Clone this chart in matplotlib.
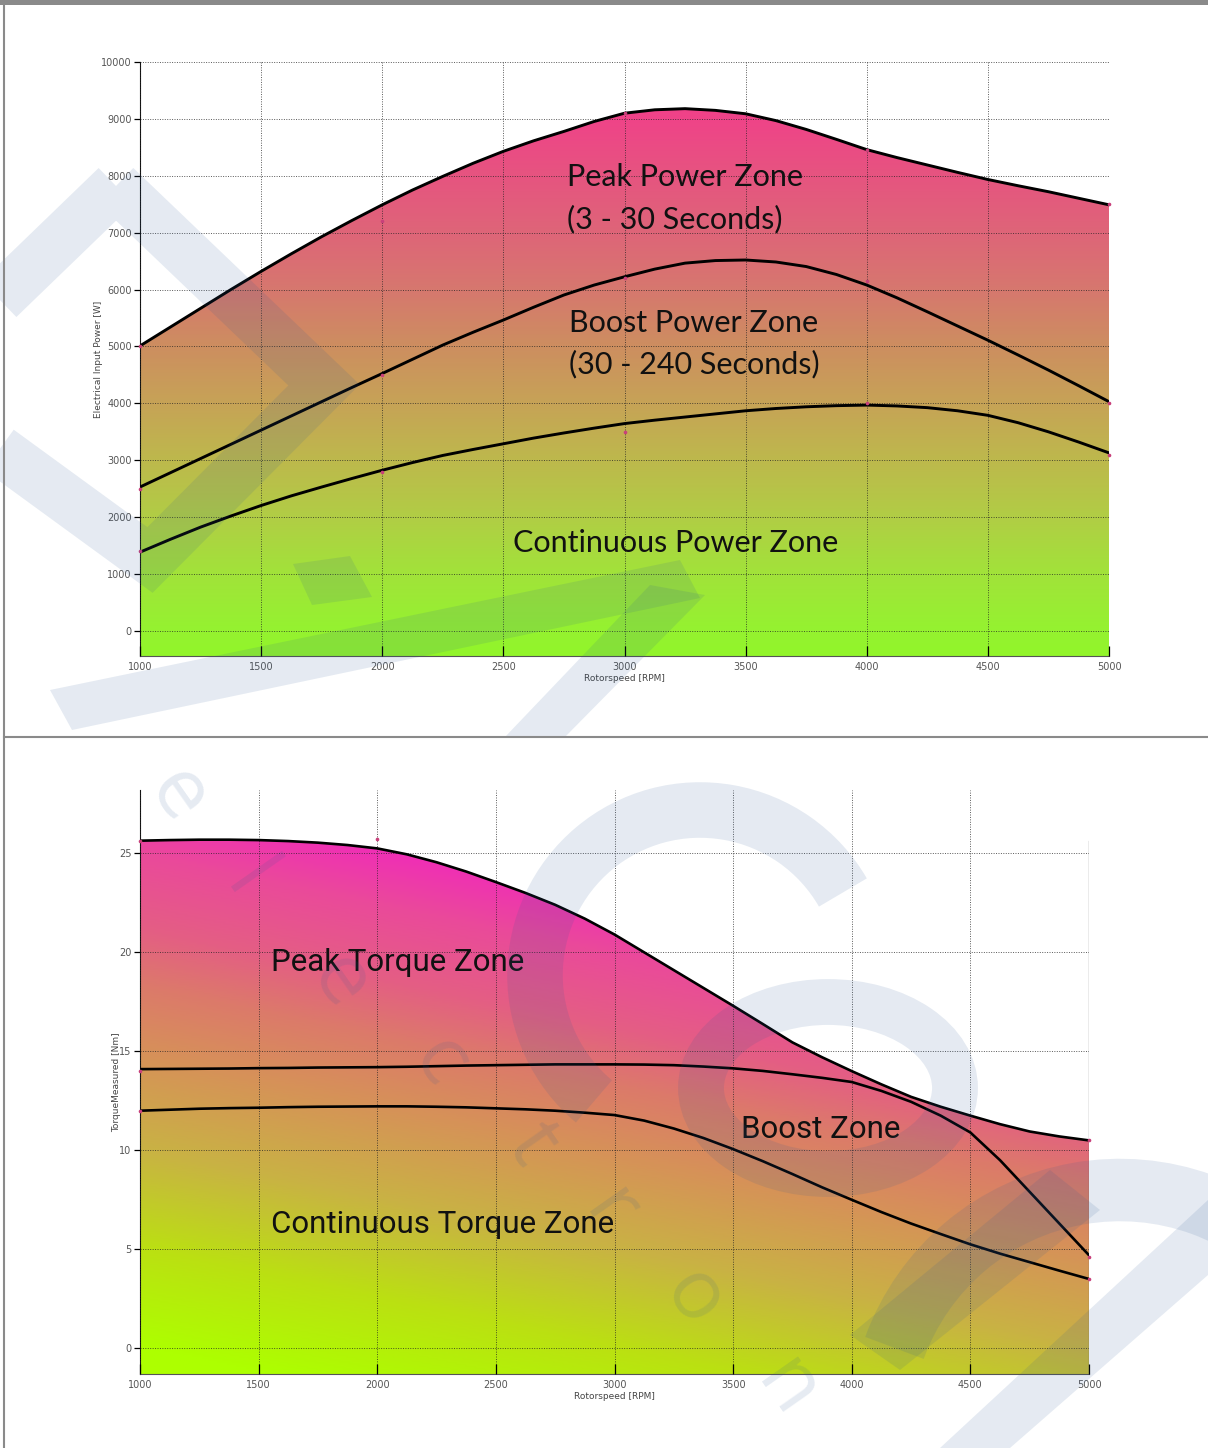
import numpy as np
import matplotlib
matplotlib.use("Agg")
import matplotlib.pyplot as plt
from matplotlib.colors import LinearSegmentedColormap, Normalize
from matplotlib.patches import Polygon, Ellipse, Arc, Rectangle

# ---- data ----
rpm = [1000, 1125, 1250, 1375, 1500, 1625, 1750, 1875, 2000, 2125, 2250,
       2375, 2500, 2625, 2750, 2875, 3000, 3125, 3250, 3375, 3500, 3625,
       3750, 3875, 4000, 4125, 4250, 4375, 4500, 4625, 4750, 4875, 5000]

# electrical input power [W]
peak_power = [5010, 5340, 5670, 6000, 6320, 6630, 6930, 7215, 7490, 7750, 7990,
              8220, 8430, 8615, 8780, 8955, 9100, 9160, 9180, 9150, 9090, 8970,
              8815, 8640, 8460, 8320, 8190, 8060, 7935, 7825, 7720, 7605, 7490]
boost_power = [2530, 2780, 3030, 3280, 3530, 3780, 4030, 4280, 4525, 4775, 5025,
               5250, 5465, 5690, 5905, 6080, 6225, 6360, 6465, 6510, 6520, 6485,
               6405, 6265, 6080, 5855, 5610, 5360, 5110, 4850, 4585, 4310, 4030]
cont_power = [1385, 1610, 1825, 2020, 2205, 2375, 2530, 2680, 2825, 2960, 3085,
              3190, 3290, 3390, 3480, 3565, 3645, 3705, 3760, 3815, 3870, 3910,
              3940, 3960, 3970, 3955, 3925, 3870, 3790, 3660, 3500, 3320, 3130]

# torque [Nm]
peak_torque = [25.64, 25.67, 25.69, 25.69, 25.67, 25.62, 25.54, 25.42, 25.25, 24.95, 24.55,
               24.08, 23.55, 23.0, 22.4, 21.7, 20.9, 20.0, 19.1, 18.2, 17.3, 16.38,
               15.45, 14.7, 14.0, 13.33, 12.7, 12.2, 11.75, 11.32, 10.95, 10.7, 10.5]
boost_torque = [14.1, 14.11, 14.12, 14.13, 14.15, 14.16, 14.18, 14.19, 14.2, 14.22, 14.25,
                14.28, 14.3, 14.32, 14.34, 14.34, 14.34, 14.33, 14.3, 14.23, 14.14, 14.01,
                13.84, 13.66, 13.45, 13.0, 12.45, 11.75, 10.9, 9.5, 7.9, 6.3, 4.7]
cont_torque = [12.0, 12.05, 12.1, 12.13, 12.15, 12.18, 12.2, 12.21, 12.22, 12.22, 12.2,
               12.17, 12.12, 12.07, 12.0, 11.9, 11.78, 11.5, 11.1, 10.62, 10.06, 9.45,
               8.8, 8.13, 7.5, 6.88, 6.3, 5.77, 5.25, 4.78, 4.35, 3.92, 3.5]

# small control-point dots
pw_dot_x = [1000, 2000, 3000, 4000, 5000]
pw_dot_peak = [5000, 7200, 9100, 8450, 7500]
pw_dot_boost = [2500, 4500, 6200, 6150, 4000]
pw_dot_cont = [1400, 2800, 3500, 4000, 3100]
tq_dot_x = [1000, 2000, 5000, 5000, 5000, 1000, 1000]
tq_dot_y = [25.6, 25.7, 10.5, 4.6, 3.5, 14.0, 12.0]

power_ticks = [0, 1000, 2000, 3000, 4000, 5000, 6000, 7000, 8000, 9000, 10000]
torque_ticks = [0, 5, 10, 15, 20, 25]
rpm_ticks = [1000, 1500, 2000, 2500, 3000, 3500, 4000, 4500, 5000]

W, H = 1208, 1448
fig = plt.figure(figsize=(W / 100, H / 100), dpi=100)
fig.patch.set_facecolor('white')

tick_font = dict(fontsize=7, color='#555555')


def style_axes(ax, yticks):
    ax.set_xlim(1000, 5000)
    ax.set_xticks(rpm_ticks)
    ax.set_yticks(yticks)
    ax.set_xticklabels([str(v) for v in rpm_ticks], **tick_font)
    ax.set_yticklabels([str(v) for v in yticks], **tick_font)
    ax.tick_params(axis='x', direction='in', length=7, width=0.9, pad=4)
    ax.tick_params(axis='y', direction='out', length=4, width=0.9, pad=2)
    ax.grid(True, linestyle=(0, (1, 1.5)), color='#222222', linewidth=0.7, alpha=0.75)
    ax.set_axisbelow(False)
    for s in ['top', 'right']:
        ax.spines[s].set_visible(False)
    ax.spines['left'].set_color('#111111')
    ax.spines['bottom'].set_color('#555555')
    ax.patch.set_alpha(0)


# ---------------- top: power ----------------
ax1 = fig.add_axes([140 / W, 1 - 656 / H, 969 / W, 594 / H], zorder=2)
style_axes(ax1, power_ticks)
ax1.set_ylim(-440, 10000)

pw_cmap = LinearSegmentedColormap.from_list('pw', [
    (0.00, '#92F52A'), (0.045, '#95F230'), (0.15, '#A2E23A'),
    (0.25, '#B1CD45'), (0.35, '#BDB94C'), (0.45, '#C6A456'),
    (0.56, '#CD8E60'), (0.66, '#D6786E'), (0.76, '#DE6678'),
    (0.87, '#E65480'), (0.97, '#EF4488'), (1.00, '#F23F8A')])
yv = np.linspace(-440, 10000, 500)
img = pw_cmap(Normalize(-440, 9300, clip=True)(yv))[:, None, :].repeat(2, axis=1)
fb = ax1.fill_between(rpm, peak_power, -440, facecolor='none', edgecolor='none')
im = ax1.imshow(img, extent=[1000, 5000, -440, 10000], origin='lower',
                aspect='auto', zorder=1, interpolation='bilinear')
im.set_clip_path(fb.get_paths()[0], transform=ax1.transData)

for series in (peak_power, boost_power, cont_power):
    ax1.plot(rpm, series, color='black', lw=2.1, zorder=3,
             solid_capstyle='round', solid_joinstyle='round')
for ys in (pw_dot_peak, pw_dot_boost, pw_dot_cont):
    ax1.plot(pw_dot_x, ys, 'o', ms=1.6, color='#C8407A', zorder=4, clip_on=False)

lab1 = dict(family='Lato', fontsize=22, color='#111111', va='center', ha='left', zorder=5)
ax1.text(2763, 7980, 'Peak Power Zone', **lab1)
ax1.text(2763, 7240, '(3 - 30 Seconds)', **lab1)
ax1.text(2771, 5410, 'Boost Power Zone', **lab1)
ax1.text(2771, 4690, '(30 - 240 Seconds)', **lab1)
ax1.text(2540, 1550, 'Continuous Power Zone', **lab1)

ax1.set_xlabel('Rotorspeed [RPM]', fontsize=6.5, color='#444444', labelpad=2)
ax1.set_ylabel('Electrical Input Power [W]', fontsize=6.5, color='#444444', labelpad=-1.5)

# ---------------- bottom: torque ----------------
ax2 = fig.add_axes([140 / W, 1 - 1374 / H, 949 / W, 584 / H], zorder=2)
style_axes(ax2, torque_ticks)
ax2.set_ylim(-1.3, 28.2)

tq_cmap = LinearSegmentedColormap.from_list('tq', [
    (0.00, '#ADFF00'), (0.155, '#BBE012'), (0.31, '#C9B244'),
    (0.455, '#D69258'), (0.565, '#DC7A6A'), (0.655, '#E45E84'),
    (0.77, '#EA4A9A'), (0.865, '#F02CB8'), (1.00, '#EE1EC8')])
gx, gy = np.meshgrid(np.linspace(1000, 5000, 300), np.linspace(-1.3, 28.2, 300))
tt = 0.34 * (gx - 1000) / 4000 + 0.85 * gy / 25
timg = tq_cmap(Normalize(0, 1.1, clip=True)(tt))
fb2 = ax2.fill_between(rpm, peak_torque, -1.3, facecolor='none', edgecolor='none')
im2 = ax2.imshow(timg, extent=[1000, 5000, -1.3, 28.2], origin='lower',
                 aspect='auto', zorder=1, interpolation='bilinear')
im2.set_clip_path(fb2.get_paths()[0], transform=ax2.transData)

for series in (peak_torque, boost_torque, cont_torque):
    ax2.plot(rpm, series, color='black', lw=1.9, zorder=3,
             solid_capstyle='round', solid_joinstyle='round')
ax2.plot(tq_dot_x, tq_dot_y, 'o', ms=1.6, color='#C8407A', zorder=4, clip_on=False)
ax2.axvline(5000, ymin=0, ymax=(25.6 + 1.3) / 29.5, color='#666666', lw=0.9, zorder=2)

lab2 = dict(family='Roboto', fontsize=22.5, color='#111111', va='center', ha='left', zorder=5)
ax2.text(1552, 19.5, 'Peak Torque Zone', **lab2)
ax2.text(3533, 11.06, 'Boost Zone', **lab2)
ax2.text(1552, 6.26, 'Continuous Torque Zone', **lab2)

ax2.set_xlabel('Rotorspeed [RPM]', fontsize=6.5, color='#444444', labelpad=2)
ax2.set_ylabel('TorqueMeasured [Nm]', fontsize=6.5, color='#444444', labelpad=-1.5)

# ---------------- watermark + page frame (pixel coords) ----------------
wm = fig.add_axes([0, 0, 1, 1], zorder=6)
wm.set_xlim(0, W)
wm.set_ylim(H, 0)
wm.axis('off')
wm.patch.set_alpha(0)
wmc, wa = '#2B5896', 0.12

wm.add_patch(Polygon([(116, 186), (324, 385), (150, 560), (-90, 385)], closed=True,
                     fill=False, lw=36, ec=wmc, alpha=wa, joinstyle='miter'))
wm.add_patch(Polygon([(50, 690), (680, 560), (700, 598), (72, 730)], fc=wmc, alpha=wa, lw=0))
wm.add_patch(Polygon([(293, 564), (350, 556), (372, 597), (312, 605)], fc=wmc, alpha=wa, lw=0))
wm.add_patch(Polygon([(650, 585), (705, 595), (565, 737), (505, 737)], fc=wmc, alpha=wa, lw=0))

wm.add_patch(Arc((700, 975), 330, 330, theta1=130, theta2=330, lw=40, ec=wmc, alpha=wa))
wm.add_patch(Ellipse((828, 1088), 254, 172, fill=False, lw=33, ec=wmc, alpha=wa))
wm.add_patch(Polygon([(850, 1335), (1050, 1170), (1100, 1210), (900, 1370)], fc=wmc, alpha=wa, lw=0))
wm.add_patch(Arc((1120, 1430), 480, 480, theta1=200, theta2=320, lw=45, ec=wmc, alpha=wa))
wm.add_patch(Polygon([(940, 1448), (1208, 1200), (1208, 1275), (1010, 1448)], fc=wmc, alpha=wa, lw=0))

letters = ['e', 'l', 'e', 'c', 't', 'r', 'o', 'n']
letter_x = [177, 246, 339, 439, 531, 609, 693, 786]
letter_y = [796, 882, 982, 1063, 1145, 1213, 1299, 1390]
for ch, lx, ly in zip(letters, letter_x, letter_y):
    wm.text(lx, ly, ch, rotation=-55, fontsize=60, color=wmc, alpha=wa,
            ha='center', va='center', family='Open Sans')

wm.add_patch(Rectangle((0, 0), W, 5, color='#8a8a8a', lw=0))
wm.plot([4, 4], [0, H], color='#8a8a8a', lw=1.5)
wm.plot([4, W], [737, 737], color='#8a8a8a', lw=1.5)

fig.savefig('out.png', dpi=100, facecolor='white')
